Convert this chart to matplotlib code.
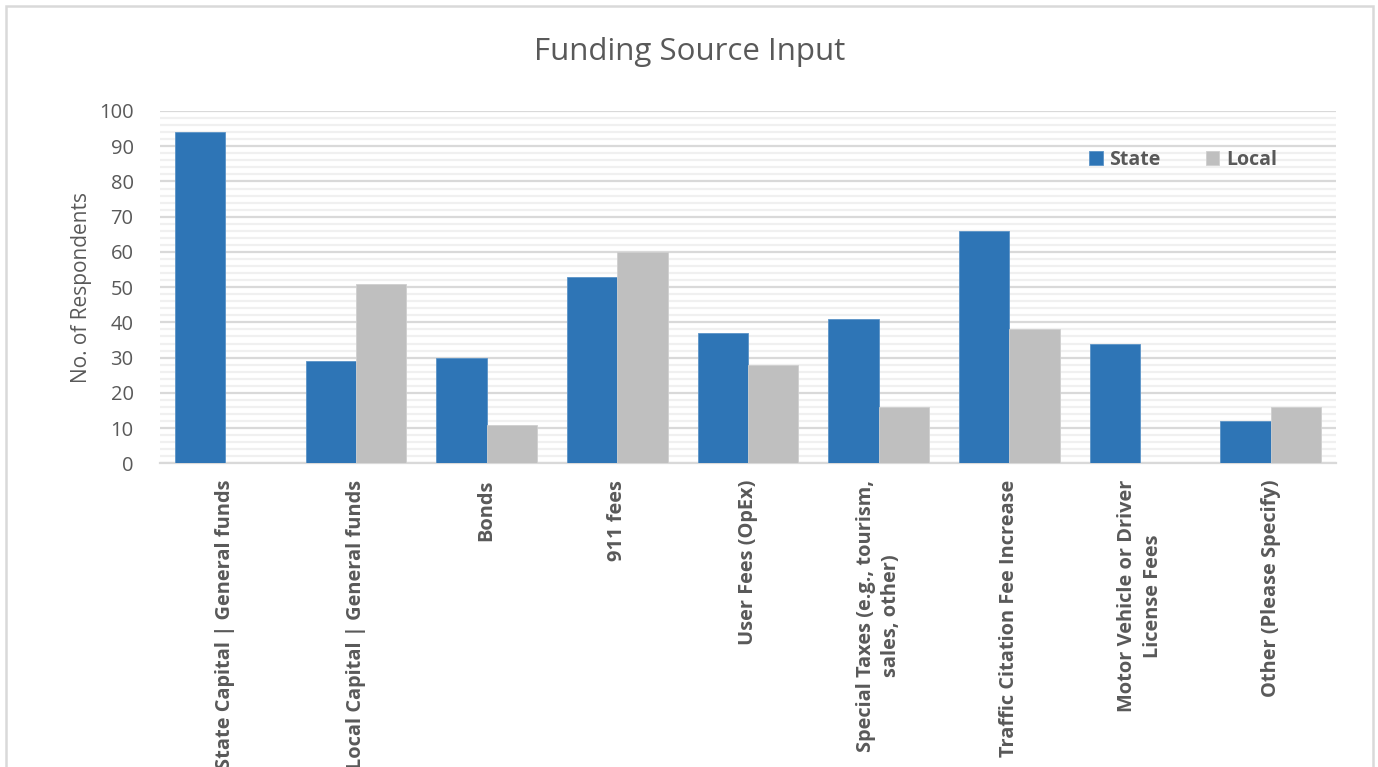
import matplotlib
matplotlib.use("Agg")
import matplotlib.pyplot as plt
import numpy as np
from matplotlib.patches import Rectangle
from matplotlib.ticker import MultipleLocator

categories = [
    "State Capital | General funds",
    "Local Capital | General funds",
    "Bonds",
    "911 fees",
    "User Fees (OpEx)",
    "Special Taxes (e.g., tourism,\nsales, other)",
    "Traffic Citation Fee Increase",
    "Motor Vehicle or Driver\nLicense Fees",
    "Other (Please Specify)",
]
state = [94, 29, 30, 53, 37, 41, 66, 34, 12]
local = [0, 51, 11, 60, 28, 16, 38, 0, 16]
series_names = ["State", "Local"]

plt.rcParams['font.family'] = ['Open Sans', 'DejaVu Sans']
TXT = "#595959"

fig = plt.figure(figsize=(13.78, 7.67), dpi=100)
ax = fig.add_axes([160/1378, 1-463.3/767, 1176/1378, 352.3/767])

x = np.arange(len(categories))
w = 0.385
ax.bar(x - w/2, state, w, color="#2E75B6", edgecolor="#5B93C7", linewidth=0.6, label=series_names[0], zorder=3)
ax.bar(x + w/2, local, w, color="#BFBFBF", edgecolor="#CFCFCF", linewidth=0.6, label=series_names[1], zorder=3)

ax.set_xlim(-0.5, len(categories) - 0.5)
ax.set_ylim(0, 100)
ax.yaxis.set_major_locator(MultipleLocator(10))
ax.yaxis.set_minor_locator(MultipleLocator(2))
ax.grid(which="major", axis="y", color="#D9D9D9", linewidth=1.6, zorder=0)
ax.grid(which="minor", axis="y", color="#F0F0F0", linewidth=1.6, zorder=0)
ax.set_axisbelow(True)
for s in ["top", "right", "left"]:
    ax.spines[s].set_visible(False)
ax.spines["bottom"].set_color("#D9D9D9")
ax.spines["bottom"].set_linewidth(1.6)
ax.tick_params(axis="y", which="both", length=0, labelsize=14.5, labelcolor=TXT, pad=19)
ax.tick_params(axis="x", length=0, pad=12)
ax.set_xticks(x)
ax.set_xticklabels(categories, rotation=90, fontsize=14.4, fontweight="bold", color=TXT,
                   ha="center", va="top", multialignment="center", linespacing=1.35)

ax.set_ylabel("No. of Respondents", fontsize=15, color=TXT, labelpad=5)

fig.text(690/1378, 1-52/767, "Funding Source Input", ha="center", va="center",
         fontsize=22.5, color=TXT)

leg = ax.legend(loc="center", bbox_to_anchor=(1183/1378, 1-160/767), bbox_transform=fig.transFigure,
                ncol=2, frameon=False, handlelength=0.7, handleheight=0.7, handletextpad=0.35,
                columnspacing=2.3, prop={"weight": "bold", "size": 14})
for t in leg.get_texts():
    t.set_color(TXT)

fig.patches.append(Rectangle((6/1378, -0.05), 1367/1378, 1.05 - 6/767, transform=fig.transFigure,
                             fill=False, edgecolor="#D9D9D9", linewidth=1.8))

fig.savefig("out.png", dpi=100)
